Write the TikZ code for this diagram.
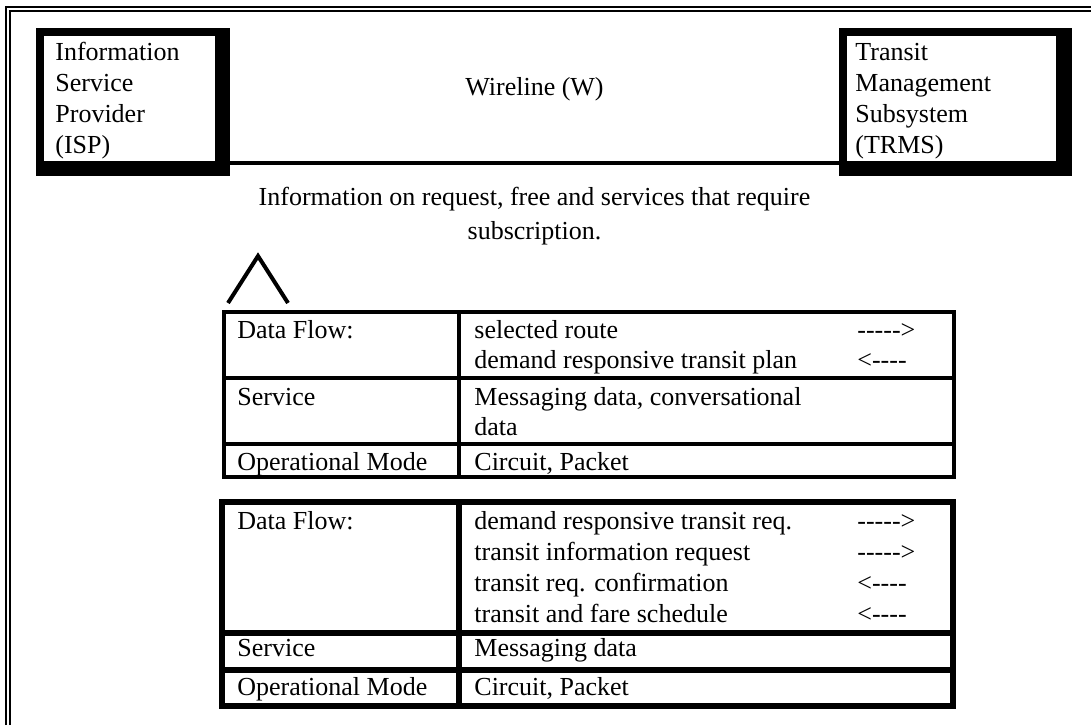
\documentclass[tikz,border=0pt]{standalone}
\usepackage{fontspec}
\setmainfont{Liberation Serif}[Ligatures=TeXOff]
\usetikzlibrary{positioning,calc}

\begin{document}
\begin{tikzpicture}[x=0.5pt, y=-0.5pt,
  txt/.style={inner sep=0pt, anchor=base west, font=\fontsize{13}{15}\selectfont},
  ctxt/.style={inner sep=0pt, anchor=base, font=\fontsize{13}{15}\selectfont},
  outerbox/.style={fill=black, inner sep=0pt, minimum height=74pt},
  innerbox/.style={fill=white, inner sep=0pt, minimum height=62.5pt},
  frame/.style={line width=1pt},
  tabone/.style={line width=2pt},
  tabtwo/.style={line width=3pt}]

  \useasboundingbox (0,0) rectangle (1091,725);

  % double frame round the page
  \draw[frame] (6,725) -- (6,7) -- (1091,7);
  \draw[frame] (10,725) -- (10,11) -- (1091,11);

  % the two end systems
  \node[outerbox, minimum width=97pt] (isp) at (133,102) {};
  \node[innerbox, minimum width=85.5pt] (ispin) at (129.5,98.5) {};
  \node[outerbox, minimum width=116.5pt] (trms) at (955.5,102) {};
  \node[innerbox, minimum width=104.5pt] (trmsin) at (951.5,98.5) {};

  \foreach \t [count=\i] in {Information, Service, Provider, (ISP)}
    \node[txt] (isp\i) at (55,29+31*\i) {\t};
  \foreach \t [count=\i] in {Transit, Management, Subsystem, (TRMS)}
    \node[txt] (trms\i) at (855,29+31*\i) {\t};

  % wireline link
  \draw[line width=2pt] ($(isp.south east)+(0,-13)$) -- ($(trms.south west)+(0,-13)$);
  \node[ctxt] (wire) at (534.5,95) {Wireline (W)};

  \node[ctxt] (cap1) at (534.5,205) {Information on request, free and services that require};
  \node[ctxt] (cap2) at (534.5,239) {subscription.};

  % caret
  \draw[line width=2pt] (228,303) -- (258,256) -- (288,303);

  % first table
  \draw[tabone] (224,312) rectangle (954,477);
  \draw[tabone] (459,312) -- (459,477);
  \draw[tabone] (224,378) -- (954,378);
  \draw[tabone] (224,444) -- (954,444);

  \node[txt] (df1) at (237,338) {Data Flow:};
  \node[txt] (f11) at (474,338) {selected route};
  \node[txt] (a11) at (857,338) {----->};
  \node[txt] (f12) at (474,368) {demand responsive transit plan};
  \node[txt] (a12) at (857,368) {<----};
  \node[txt] (sv1) at (237,405) {Service};
  \node[txt] (s11) at (474,405) {Messaging data, conversational};
  \node[txt] (s12) at (474,435) {data};
  \node[txt] (om1) at (237,470) {Operational Mode};
  \node[txt] (m11) at (474,470) {Circuit, Packet};

  % second table
  \draw[tabtwo] (221.5,502) rectangle (953,706);
  \draw[tabtwo] (458.5,502) -- (458.5,706);
  \draw[tabtwo] (221.5,632.5) -- (953,632.5);
  \draw[tabtwo] (221.5,670) -- (953,670);

  \node[txt] (df2) at (237,529) {Data Flow:};
  \node[txt] (f21) at (474,529) {demand responsive transit req.};
  \node[txt] (a21) at (857,529) {----->};
  \node[txt] (f22) at (474,560) {transit information request};
  \node[txt] (a22) at (857,560) {----->};
  \node[txt] (f23) at (474,591) {transit req. confirmation};
  \node[txt] (a23) at (857,591) {<----};
  \node[txt] (f24) at (474,622) {transit and fare schedule};
  \node[txt] (a24) at (857,622) {<----};
  \node[txt] (sv2) at (237,656) {Service};
  \node[txt] (s21) at (474,656) {Messaging data};
  \node[txt] (om2) at (237,695) {Operational Mode};
  \node[txt] (m21) at (474,695) {Circuit, Packet};
\end{tikzpicture}
\end{document}
